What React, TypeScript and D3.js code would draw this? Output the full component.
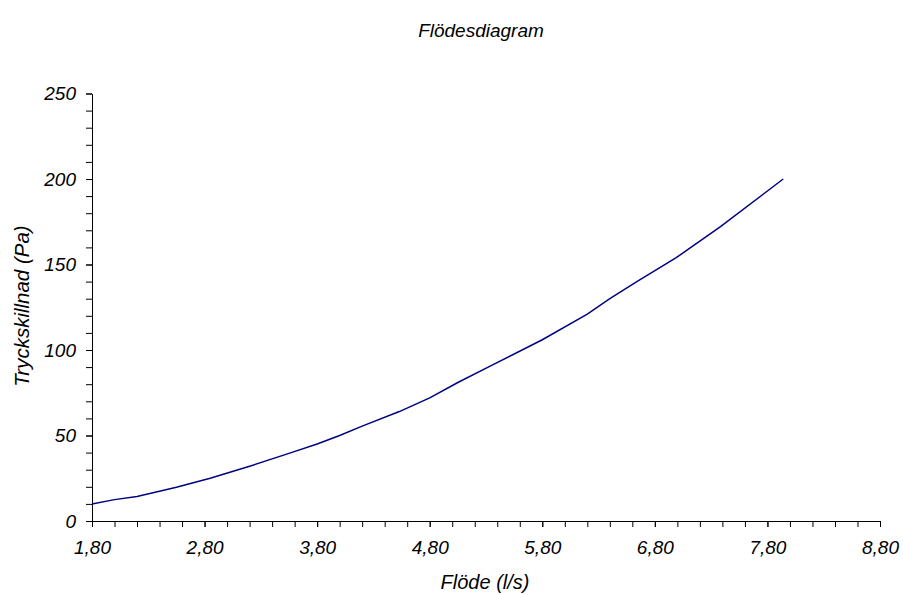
import React, { useEffect, useRef } from 'react';
import * as d3 from 'd3';

// flow (l/s) and pressure drop (Pa)
const flow = [1.8, 2.0, 2.2, 2.55, 2.85, 3.2, 3.57, 3.8, 4.0, 4.2, 4.53, 4.8, 5.05, 5.35, 5.8, 6.2, 6.4, 6.64, 6.99, 7.38, 7.94];
const pressure = [10, 12.5, 14.3, 19.7, 25, 32, 40, 45, 50, 55.5, 64, 72, 81, 91, 106, 121, 130, 140, 154, 172, 200];

const xMajorTicks = [1.8, 2.8, 3.8, 4.8, 5.8, 6.8, 7.8, 8.8];
const yMajorTicks = [0, 50, 100, 150, 200, 250];

const title = 'Flödesdiagram';
const xTitle = 'Flöde (l/s)';
const yTitle = 'Tryckskillnad (Pa)';

const width = 903;
const height = 595;
const margin = { top: 93.5, right: 23, bottom: 74, left: 92 };
const font = '"Liberation Sans", Arial, sans-serif';

export default function App() {
  const ref = useRef<SVGSVGElement>(null);

  useEffect(() => {
    const svg = d3.select(ref.current);
    svg.selectAll('*').remove();

    const x = d3.scaleLinear().domain([1.8, 8.8]).range([margin.left, width - margin.right]);
    const y = d3.scaleLinear().domain([0, 250]).range([height - margin.bottom, margin.top]);

    const fmt = (d: d3.NumberValue) => d3.format('.2f')(+d).replace('.', ',');

    // minor ticks every 0.2 / 10
    const xMinor = d3.range(0, 36).map((i) => 1.8 + i * 0.2);
    const yMinor = d3.range(0, 26).map((i) => i * 10);

    const xAxisG = svg.append('g').attr('transform', `translate(0,${height - margin.bottom})`);
    xAxisG.call(d3.axisBottom(x).tickValues(xMinor).tickSize(6).tickFormat(() => '').tickSizeOuter(0));
    const xLabels = svg.append('g').attr('transform', `translate(0,${height - margin.bottom})`);
    xLabels.call(d3.axisBottom(x).tickValues(xMajorTicks).tickSize(6).tickPadding(14).tickFormat(fmt).tickSizeOuter(0));

    const yAxisG = svg.append('g').attr('transform', `translate(${margin.left},0)`);
    yAxisG.call(d3.axisLeft(y).tickValues(yMinor).tickSize(6).tickFormat(() => '').tickSizeOuter(0));
    const yLabels = svg.append('g').attr('transform', `translate(${margin.left},0)`);
    yLabels.call(d3.axisLeft(y).tickValues(yMajorTicks).tickSize(6).tickPadding(10).tickFormat((d) => String(d)).tickSizeOuter(0));

    svg.selectAll('.domain').attr('stroke', '#000');
    svg.selectAll('.tick line').attr('stroke', '#000');
    svg.selectAll('.tick text')
      .attr('font-family', font)
      .attr('font-style', 'italic')
      .attr('font-size', 19)
      .attr('fill', '#000');

    const line = d3.line<number>()
      .x((d, i) => x(flow[i]))
      .y((d) => y(d));

    svg.append('path')
      .datum(pressure)
      .attr('fill', 'none')
      .attr('stroke', '#000080')
      .attr('stroke-width', 1.5)
      .attr('d', line);

    svg.append('text')
      .attr('x', 481)
      .attr('y', 37)
      .attr('text-anchor', 'middle')
      .attr('font-family', font)
      .attr('font-style', 'italic')
      .attr('font-size', 19)
      .text(title);

    svg.append('text')
      .attr('x', 485)
      .attr('y', 589)
      .attr('text-anchor', 'middle')
      .attr('font-family', font)
      .attr('font-style', 'italic')
      .attr('font-size', 20)
      .text(xTitle);

    svg.append('text')
      .attr('transform', `translate(29,306) rotate(-90)`)
      .attr('text-anchor', 'middle')
      .attr('font-family', font)
      .attr('font-style', 'italic')
      .attr('font-size', 20.5)
      .text(yTitle);
  }, []);

  return (
    <svg ref={ref} width={width} height={height} style={{ position: 'absolute', left: 0, top: 0, background: '#fff' }} />
  );
}
